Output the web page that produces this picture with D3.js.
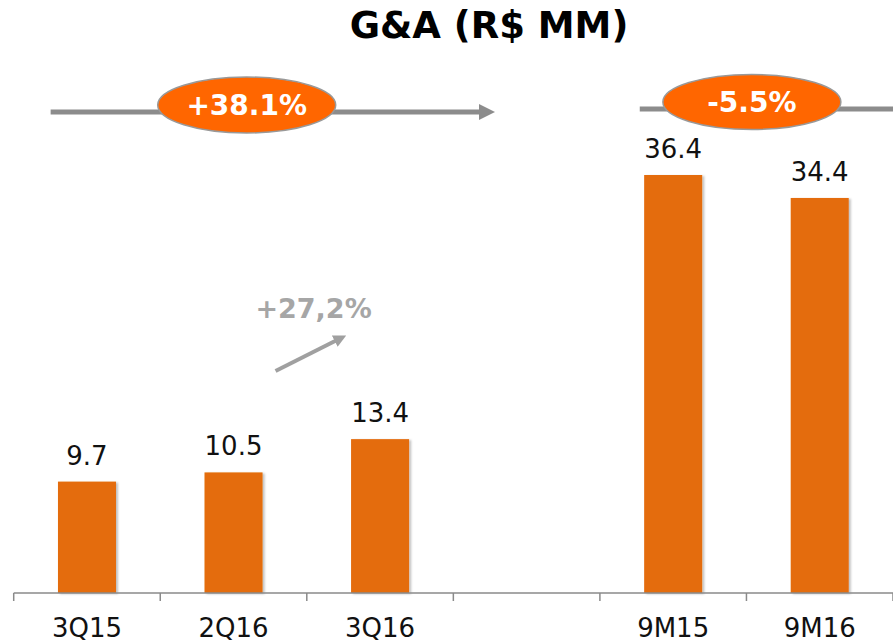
<!DOCTYPE html>
<html>
<head>
<meta charset="utf-8">
<script src="https://cdn.jsdelivr.net/npm/d3@7"></script>
<style>
  body { margin: 0; background: #fff; }
  svg { display: block; font-family: "DejaVu Sans", Verdana, sans-serif; }
</style>
</head>
<body>
<div id="chart"></div>
<script>
// Chart data
const categories = ["3Q15", "2Q16", "3Q16", "gap", "9M15", "9M16"];
const labels = ["3Q15", "2Q16", "3Q16", "", "9M15", "9M16"];
const values = [9.7, 10.5, 13.4, null, 36.4, 34.4];
const valueLabels = ["9.7", "10.5", "13.4", "", "36.4", "34.4"];
const growthLabels = ["+38.1%", "-5.5%", "+27,2%"];

const width = 893, height = 643;
const baseline = 593;

const svg = d3.select("#chart").append("svg")
    .attr("width", width)
    .attr("height", height);

// soft shadow for bars
const defs = svg.append("defs");
const shadow = defs.append("filter").attr("id", "shadow")
    .attr("x", "-10%").attr("y", "-10%").attr("width", "130%").attr("height", "120%");
shadow.append("feDropShadow")
    .attr("dx", 2).attr("dy", 1)
    .attr("stdDeviation", 1.2)
    .attr("flood-color", "#000")
    .attr("flood-opacity", 0.25);

// arrowhead markers
function addMarker(id, color) {
    defs.append("marker")
        .attr("id", id)
        .attr("viewBox", "0 0 10 10")
        .attr("refX", 2).attr("refY", 5)
        .attr("markerWidth", 3.2).attr("markerHeight", 3.2)
        .attr("orient", "auto")
        .append("path")
        .attr("d", "M0,0 L10,5 L0,10 Z")
        .attr("fill", color);
}
addMarker("arrowBig", "#8c8c8c");
addMarker("arrowSmall", "#a0a0a0");

const x = d3.scaleBand()
    .domain(categories)
    .range([13.7, 893])
    .paddingInner(0.604)
    .paddingOuter(0.302);

const y = d3.scaleLinear()
    .domain([0, 36.4])
    .range([baseline, 175]);

const step = x.step();

// Title
svg.append("text")
    .attr("x", 489)
    .attr("y", 38)
    .attr("text-anchor", "middle")
    .style("font-weight", "bold")
    .style("font-size", "37px")
    .attr("fill", "#000")
    .text("G&A (R$ MM)");

// Bars
const barData = categories.map((c, i) => ({ c, v: values[i], t: valueLabels[i] }))
    .filter(d => d.v !== null);

svg.append("g").selectAll("rect")
    .data(barData)
    .join("rect")
    .attr("x", d => x(d.c))
    .attr("y", d => y(d.v))
    .attr("width", x.bandwidth())
    .attr("height", d => baseline - y(d.v))
    .attr("fill", "#e46c0a")
    .attr("filter", "url(#shadow)");

// Value labels
svg.append("g").selectAll("text")
    .data(barData)
    .join("text")
    .attr("x", d => x(d.c) + x.bandwidth() / 2)
    .attr("y", d => y(d.v) - 17)
    .attr("text-anchor", "middle")
    .style("font-size", "26px")
    .attr("fill", "#111")
    .text(d => d.t);

// Axis (ticks at band boundaries)
const axis = svg.append("g").attr("stroke", "#8a8a8a").attr("stroke-width", 1.5);
axis.append("line")
    .attr("x1", x.range()[0]).attr("x2", width)
    .attr("y1", baseline).attr("y2", baseline);
const bounds = d3.range(categories.length + 1).map(i => x.range()[0] + i * step);
axis.selectAll("line.tick")
    .data(bounds)
    .join("line")
    .attr("class", "tick")
    .attr("x1", d => d).attr("x2", d => d)
    .attr("y1", baseline).attr("y2", baseline + 8);

svg.append("g").selectAll("text")
    .data(categories)
    .join("text")
    .attr("x", d => x(d) + x.bandwidth() / 2)
    .attr("y", 637)
    .attr("text-anchor", "middle")
    .style("font-size", "26px")
    .attr("fill", "#111")
    .text((d, i) => labels[i]);

// Growth annotation: 3Q15 -> 3Q16
const g1 = svg.append("g");
const c1 = x("2Q16") + x.bandwidth() / 2 + step * 0.09;
g1.append("line")
    .attr("x1", x("3Q15") - step * 0.05).attr("x2", x("3Q16") + step * 0.895)
    .attr("y1", 112).attr("y2", 112)
    .attr("stroke", "#8c8c8c").attr("stroke-width", 5)
    .attr("marker-end", "url(#arrowBig)");
g1.append("ellipse")
    .attr("cx", c1).attr("cy", 105)
    .attr("rx", 89).attr("ry", 28)
    .attr("fill", "#ff6600").attr("stroke", "#999").attr("stroke-width", 1.5);
g1.append("text")
    .attr("x", c1).attr("y", 115)
    .attr("text-anchor", "middle")
    .style("font-weight", "bold").style("font-size", "28px")
    .attr("fill", "#fff")
    .text(growthLabels[0]);

// Growth annotation: 9M15 -> 9M16
const g2 = svg.append("g");
const c2 = x("9M16") - step * 0.265;
g2.append("line")
    .attr("x1", x("9M15") - step * 0.03).attr("x2", width)
    .attr("y1", 109).attr("y2", 109)
    .attr("stroke", "#8c8c8c").attr("stroke-width", 5);
g2.append("ellipse")
    .attr("cx", c2).attr("cy", 102)
    .attr("rx", 89).attr("ry", 27.5)
    .attr("fill", "#ff6600").attr("stroke", "#999").attr("stroke-width", 1.5);
g2.append("text")
    .attr("x", c2).attr("y", 112)
    .attr("text-anchor", "middle")
    .style("font-weight", "bold").style("font-size", "28px")
    .attr("fill", "#fff")
    .text(growthLabels[1]);

// Small growth arrow 2Q16 -> 3Q16
svg.append("text")
    .attr("x", x("2Q16") + x.bandwidth() + 51).attr("y", 318)
    .attr("text-anchor", "middle")
    .style("font-weight", "bold").style("font-size", "27px")
    .attr("fill", "#a6a6a6")
    .text(growthLabels[2]);
svg.append("line")
    .attr("x1", x("2Q16") + x.bandwidth() + 13).attr("y1", 371)
    .attr("x2", x("3Q16") - 14).attr("y2", 340)
    .attr("stroke", "#a0a0a0").attr("stroke-width", 4)
    .attr("marker-end", "url(#arrowSmall)");
</script>
</body>
</html>
